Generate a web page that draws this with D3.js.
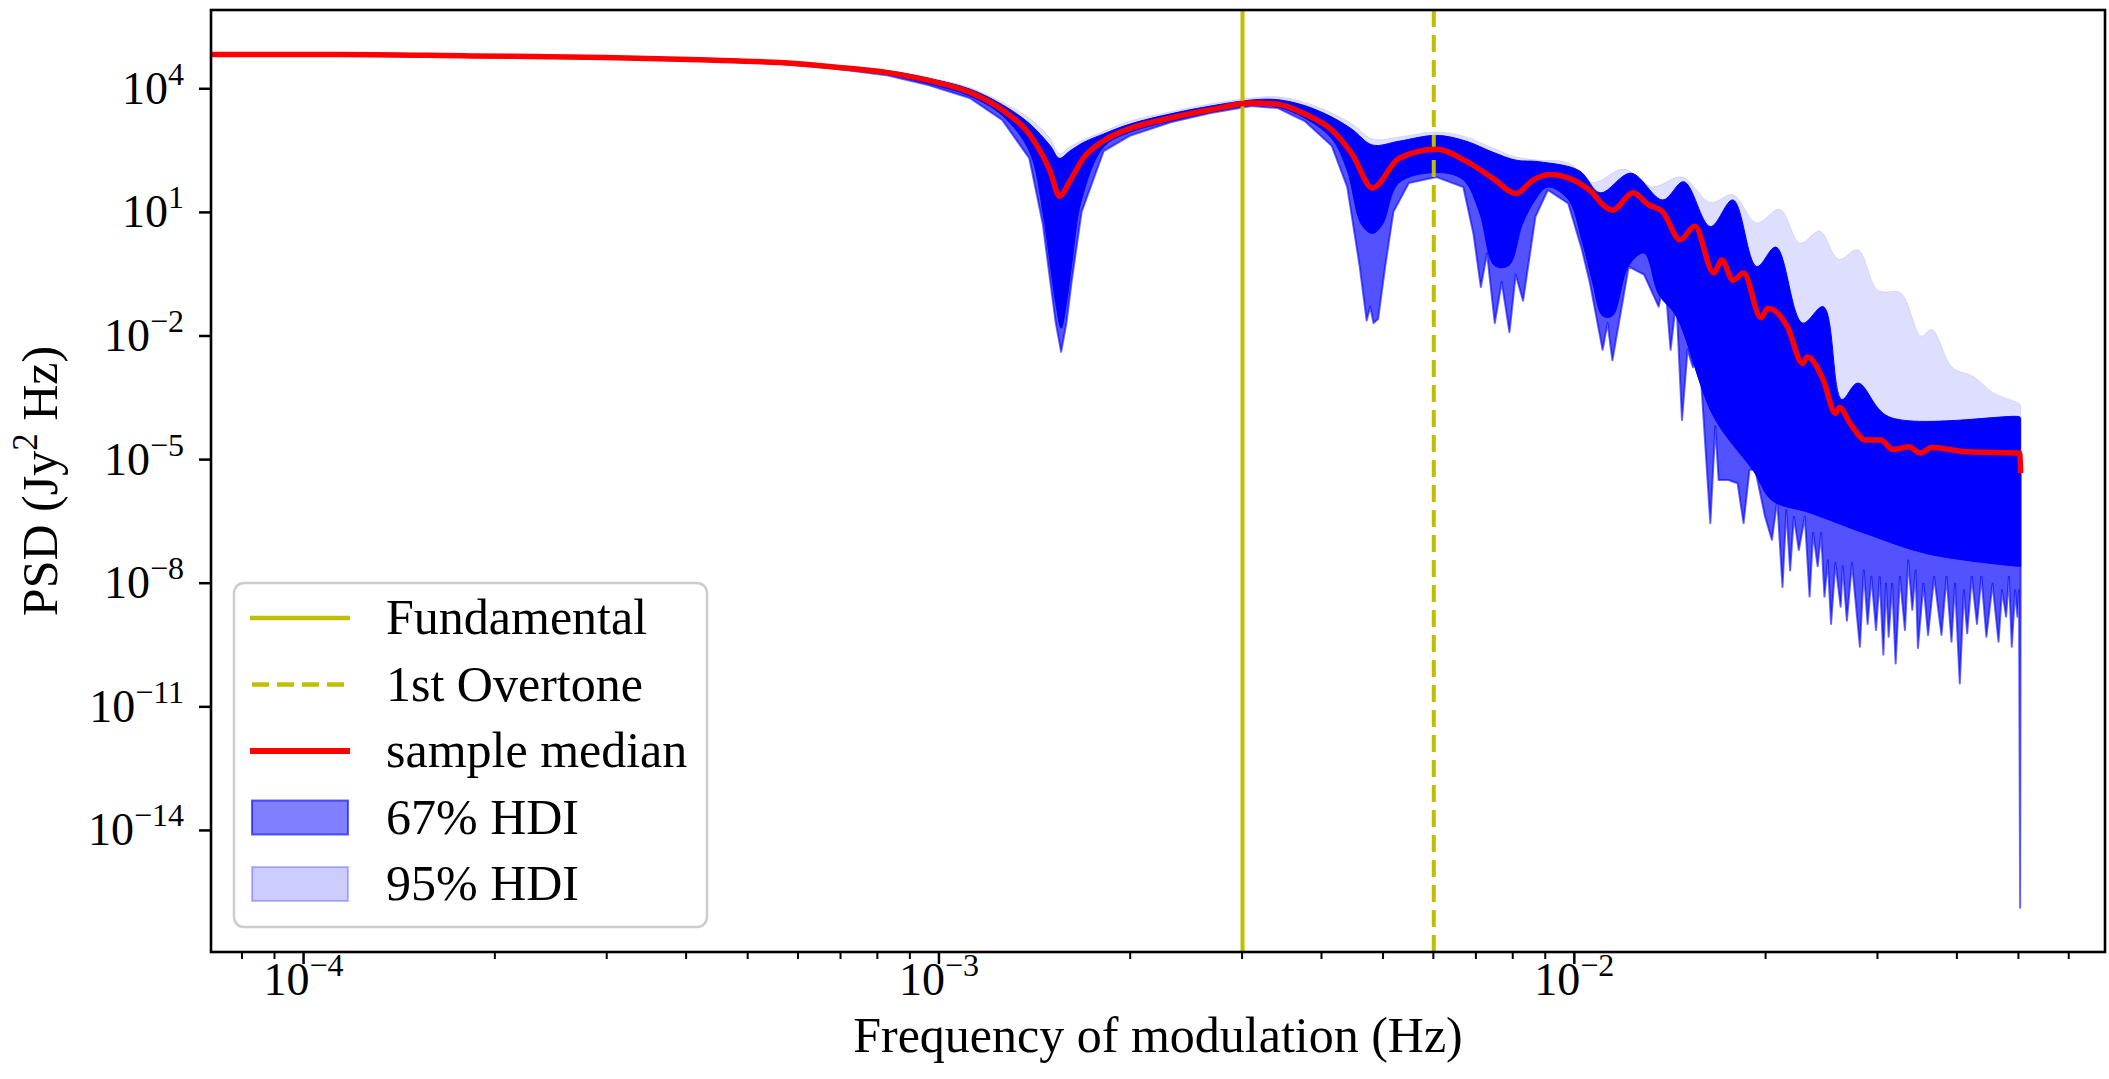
<!DOCTYPE html>
<html><head><meta charset="utf-8">
<script src="https://cdn.jsdelivr.net/npm/d3@7"></script>
<style>
body{margin:0;background:#fff}
svg{display:block}
text{font-family:"Liberation Serif","DejaVu Serif",serif;fill:#000}
</style>
</head><body>
<svg id="chart" width="2109" height="1079"></svg>
<script>
// ---------------- data ----------------
const fundamentalFreq = 3.01e-3;
const overtoneFreq = 6.02e-3;

const xMajorTicks = [1e-4, 1e-3, 1e-2];
const xMajorExp = ["\u22124", "\u22123", "\u22122"];
const xMinorTicks = [8e-5, 9e-5, 2e-4, 3e-4, 4e-4, 5e-4, 6e-4, 7e-4, 8e-4, 9e-4,
  2e-3, 3e-3, 4e-3, 5e-3, 6e-3, 7e-3, 8e-3, 9e-3, 2e-2, 3e-2, 4e-2, 5e-2, 6e-2];
const yTicks = [1e4, 1e1, 1e-2, 1e-5, 1e-8, 1e-11, 1e-14];
const yTickExp = ["4", "1", "\u22122", "\u22125", "\u22128", "\u221211", "\u221214"];

const legendLabels = ["Fundamental", "1st Overtone", "sample median", "67% HDI", "95% HDI"];

// sample median [frequency Hz, PSD Jy^2 Hz]
const medianPts = [
  [7.16e-5, 6.6e4], [1.13e-4, 6.6e4], [1.84e-4, 6.1e4], [2.99e-4, 5.6e4], [4.21e-4, 4.9e4],
  [5.63e-4, 4.2e4], [6.85e-4, 3.3e4], [8.33e-4, 2.4e4], [9.64e-4, 1.55e4], [1.12e-3, 8.0e3],
  [1.26e-3, 3.0e3], [1.39e-3, 7.7e2], [1.50e-3, 94], [1.55e-3, 24], [1.61e-3, 56],
  [1.69e-3, 200], [1.82e-3, 531], [2.00e-3, 1.05e3], [2.32e-3, 1.9e3], [2.68e-3, 3.0e3],
  [3.11e-3, 4.4e3], [3.42e-3, 4.1e3], [3.77e-3, 2.4e3], [4.16e-3, 970], [4.48e-3, 250],
  [4.82e-3, 38], [5.31e-3, 200], [6.08e-3, 330], [6.77e-3, 170], [7.46e-3, 65],
  [8.11e-3, 28], [8.64e-3, 60], [9.17e-3, 81], [1.02e-2, 50], [1.07e-2, 29],
  [1.11e-2, 15], [1.15e-2, 11], [1.24e-2, 29], [1.31e-2, 15], [1.38e-2, 10],
  [1.47e-2, 2.1], [1.55e-2, 4.5], [1.66e-2, 0.33], [1.71e-2, 0.68], [1.78e-2, 0.22],
  [1.85e-2, 0.33], [1.97e-2, 0.027], [2.02e-2, 0.046], [2.17e-2, 0.016], [2.29e-2, 2.1e-3],
  [2.33e-2, 3.0e-3], [2.47e-2, 8.3e-4], [2.58e-2, 1.3e-4], [2.62e-2, 1.8e-4], [2.72e-2, 7.5e-5],
  [2.88e-2, 2.9e-5], [3.04e-2, 2.9e-5], [3.18e-2, 1.7e-5], [3.37e-2, 2.0e-5], [3.51e-2, 1.4e-5],
  [3.66e-2, 1.9e-5], [4.16e-2, 1.5e-5], [5.03e-2, 1.4e-5], [5.05e-2, 4.6e-6]
];

// 95% HDI upper edge (faint envelope)
const hdi95Upper = [
  [7.16e-5, 7.0e4], [1.13e-4, 7.0e4], [1.84e-4, 6.45e4], [2.99e-4, 5.95e4], [4.21e-4, 5.2e4],
  [5.63e-4, 4.5e4], [6.85e-4, 3.6e4], [8.33e-4, 2.75e4], [9.64e-4, 1.85e4], [1.12e-3, 1.05e4],
  [1.26e-3, 4.6e3], [1.39e-3, 1.9e3], [1.50e-3, 600], [1.55e-3, 260], [1.61e-3, 380],
  [1.69e-3, 560], [1.82e-3, 900], [2.00e-3, 1.6e3], [2.32e-3, 2.7e3], [2.68e-3, 4.2e3],
  [3.11e-3, 5.8e3], [3.42e-3, 6.2e3], [3.77e-3, 4.6e3], [4.16e-3, 2.5e3], [4.48e-3, 1.35e3],
  [4.82e-3, 590], [5.31e-3, 660], [6.08e-3, 870], [6.77e-3, 660], [7.46e-3, 355],
  [8.11e-3, 215], [8.81e-3, 180], [9.8e-3, 155], [1.07e-2, 52], [1.20e-2, 110],
  [1.33e-2, 41], [1.48e-2, 70], [1.64e-2, 17], [1.78e-2, 26], [1.94e-2, 5.4],
  [2.11e-2, 11.5], [2.27e-2, 1.75], [2.44e-2, 3.4], [2.61e-2, 0.71], [2.80e-2, 1.2],
  [3.01e-2, 0.125], [3.27e-2, 0.108], [3.52e-2, 9.7e-3], [3.66e-2, 0.014], [3.94e-2, 1.7e-3],
  [4.26e-2, 1.0e-3], [4.57e-2, 4.1e-4], [5.02e-2, 2.25e-4], [5.05e-2, 2.0e-4]
];

// 67% HDI upper edge (dense core)
const hdi67Upper = [
  [7.16e-5, 6.85e4], [1.13e-4, 6.85e4], [1.84e-4, 6.35e4], [2.99e-4, 5.8e4], [4.21e-4, 5.1e4],
  [5.63e-4, 4.4e4], [6.85e-4, 3.5e4], [8.33e-4, 2.65e4], [9.64e-4, 1.75e4], [1.12e-3, 9.6e3],
  [1.26e-3, 4.0e3], [1.39e-3, 1.4e3], [1.50e-3, 400], [1.55e-3, 200], [1.61e-3, 300],
  [1.69e-3, 480], [1.82e-3, 780], [2.00e-3, 1.35e3], [2.32e-3, 2.4e3], [2.68e-3, 3.7e3],
  [3.11e-3, 5.2e3], [3.42e-3, 5.3e3], [3.77e-3, 3.8e3], [4.16e-3, 2.0e3], [4.48e-3, 1.0e3],
  [4.82e-3, 420], [5.31e-3, 520], [6.08e-3, 720], [6.77e-3, 520], [7.46e-3, 280],
  [8.11e-3, 180], [8.81e-3, 165], [1.02e-2, 100], [1.10e-2, 29], [1.23e-2, 87],
  [1.38e-2, 19.5], [1.49e-2, 54], [1.64e-2, 4.4], [1.78e-2, 19.5], [1.94e-2, 0.47],
  [2.08e-2, 1.4], [2.29e-2, 0.02], [2.47e-2, 0.05], [2.64e-2, 2.8e-4], [2.80e-2, 7e-4],
  [3.13e-2, 1.07e-4], [5.02e-2, 1.07e-4], [5.05e-2, 1.0e-4]
];

// 67% HDI lower edge (dense core)
const hdi67Lower = [
  [7.16e-5, 6.35e4], [1.13e-4, 6.35e4], [1.84e-4, 5.85e4], [2.99e-4, 5.4e4], [4.21e-4, 4.7e4],
  [5.63e-4, 4.0e4], [6.85e-4, 3.1e4], [8.33e-4, 2.15e4], [9.64e-4, 1.3e4], [1.12e-3, 6.5e3],
  [1.26e-3, 2.2e3], [1.39e-3, 300], [1.46e-3, 10], [1.50e-3, 0.5], [1.53e-3, 0.06],
  [1.56e-3, 0.015], [1.59e-3, 0.06], [1.62e-3, 0.5], [1.68e-3, 20], [1.82e-3, 380],
  [2.00e-3, 850], [2.32e-3, 1.6e3], [2.68e-3, 2.6e3], [3.11e-3, 3.9e3], [3.42e-3, 3.5e3],
  [3.77e-3, 1.9e3], [4.16e-3, 600], [4.40e-3, 100], [4.63e-3, 5], [4.82e-3, 3],
  [5.0e-3, 5], [5.3e-3, 50], [6.08e-3, 90], [6.7e-3, 60], [7.1e-3, 10],
  [7.5e-3, 0.5], [7.9e-3, 0.5], [8.3e-3, 5], [8.7e-3, 20], [9.1e-3, 40],
  [9.8e-3, 20], [1.03e-2, 2], [1.07e-2, 0.2], [1.11e-2, 0.03], [1.15e-2, 0.03],
  [1.22e-2, 0.5], [1.29e-2, 1], [1.36e-2, 0.1], [1.45e-2, 0.029], [1.66e-2, 1.07e-4],
  [1.92e-2, 5e-6], [2.05e-2, 1e-6], [2.35e-2, 5e-7], [2.90e-2, 1.5e-7], [3.61e-2, 5e-8],
  [5.02e-2, 2.5e-8], [5.05e-2, 2.5e-8]
];

// 95% HDI lower edge (spiky)
const hdi95Lower = [
  [7.16e-5, 6.2e4], [1.13e-4, 6.2e4], [1.84e-4, 5.75e4], [2.99e-4, 5.25e4], [4.21e-4, 4.6e4],
  [5.63e-4, 3.9e4], [6.85e-4, 3.0e4], [8.33e-4, 2.05e4], [9.64e-4, 1.2e4], [1.12e-3, 5.8e3],
  [1.26e-3, 1.7e3], [1.39e-3, 200], [1.46e-3, 5], [1.50e-3, 0.2], [1.53e-3, 0.02],
  [1.56e-3, 4e-3], [1.59e-3, 0.02], [1.62e-3, 0.2], [1.68e-3, 10], [1.82e-3, 300],
  [2.00e-3, 700], [2.32e-3, 1.5e3], [2.68e-3, 2.5e3], [3.11e-3, 3.7e3], [3.42e-3, 3.3e3],
  [3.77e-3, 1.6e3], [4.16e-3, 400], [4.40e-3, 40], [4.60e-3, 0.5], [4.72e-3, 0.023],
  [4.78e-3, 0.05], [4.84e-3, 0.02], [4.92e-3, 0.025], [5.05e-3, 0.5], [5.20e-3, 10],
  [5.50e-3, 50], [6.08e-3, 70], [6.70e-3, 40], [6.95e-3, 3], [7.14e-3, 0.15],
  [7.30e-3, 1], [7.51e-3, 0.02], [7.70e-3, 0.2], [7.92e-3, 0.012], [8.10e-3, 0.3],
  [8.32e-3, 0.07], [8.70e-3, 7.6], [9.10e-3, 34], [9.80e-3, 16], [1.03e-2, 1.2],
  [1.06e-2, 0.19], [1.11e-2, 4.5e-3], [1.13e-2, 0.02], [1.15e-2, 2.5e-3], [1.22e-2, 0.47],
  [1.29e-2, 0.3], [1.36e-2, 0.05], [1.39e-2, 0.27], [1.42e-2, 4.5e-3], [1.45e-2, 0.072],
  [1.48e-2, 8.9e-5], [1.51e-2, 4.5e-3], [1.54e-2, 1.7e-3], [1.57e-2, 9.3e-3], [1.64e-2, 2.8e-7],
  [1.67e-2, 6.2e-5], [1.69e-2, 3.1e-6], [1.75e-2, 3.1e-6], [1.81e-2, 2.6e-6], [1.85e-2, 2.8e-7],
  [1.89e-2, 5.5e-6], [1.93e-2, 5.5e-6], [2.00e-2, 4.0e-7], [2.05e-2, 1.1e-7], [2.09e-2, 1.0e-6],
  [2.13e-2, 7.9e-9], [2.16e-2, 5.8e-7], [2.19e-2, 2.0e-8], [2.22e-2, 4.0e-7], [2.26e-2, 6.2e-8],
  [2.31e-2, 4.0e-7], [2.35e-2, 4.6e-9], [2.38e-2, 1.6e-7], [2.42e-2, 2.5e-8], [2.45e-2, 1.6e-7],
  [2.48e-2, 4.6e-9], [2.51e-2, 3.5e-8], [2.54e-2, 1.0e-9], [2.58e-2, 3.0e-8], [2.63e-2, 2.6e-9],
  [2.65e-2, 2.5e-8], [2.69e-2, 1.2e-9], [2.74e-2, 3.0e-8], [2.82e-2, 2.8e-10], [2.86e-2, 2.0e-8],
  [2.90e-2, 1.0e-9], [2.94e-2, 1.4e-8], [2.99e-2, 7.1e-10], [3.03e-2, 1.4e-8], [3.07e-2, 1.8e-10],
  [3.10e-2, 9.5e-9], [3.13e-2, 4.9e-10], [3.17e-2, 9.5e-9], [3.21e-2, 1.1e-10], [3.26e-2, 1.4e-8],
  [3.32e-2, 7.1e-10], [3.36e-2, 3.5e-8], [3.41e-2, 2.2e-9], [3.45e-2, 2.0e-8], [3.48e-2, 2.6e-10],
  [3.55e-2, 9.5e-9], [3.61e-2, 5.4e-10], [3.69e-2, 1.4e-8], [3.79e-2, 5.4e-10], [3.86e-2, 1.4e-8],
  [3.93e-2, 3.7e-10], [3.98e-2, 9.5e-9], [4.05e-2, 3.6e-11], [4.11e-2, 6.6e-9], [4.16e-2, 5.9e-10],
  [4.23e-2, 1.4e-8], [4.31e-2, 1.0e-9], [4.38e-2, 1.4e-8], [4.46e-2, 4.9e-10], [4.56e-2, 9.5e-9],
  [4.66e-2, 3.7e-10], [4.72e-2, 6.6e-9], [4.79e-2, 1.5e-9], [4.84e-2, 1.4e-8], [4.89e-2, 2.8e-10],
  [4.95e-2, 6.6e-9], [4.99e-2, 1.5e-9], [5.02e-2, 6.6e-9], [5.04e-2, 1.3e-16], [5.05e-2, 1e-8]
];

// ---------------- layout ----------------
const svg = d3.select("#chart");
const M = {left: 211, top: 10, right: 2105, bottom: 952};
const x = d3.scaleLog().domain([7.163e-5, 6.855e-2]).range([M.left, M.right]);
const y = d3.scaleLog().domain([1.09e-17, 7.94e5]).range([M.bottom, M.top]);

const BLUE = "#0000ff", RED = "#ff0000", YEL = "#bfbf00";

svg.append("defs").append("clipPath").attr("id", "clip")
  .append("rect").attr("x", M.left).attr("y", M.top)
  .attr("width", M.right - M.left).attr("height", M.bottom - M.top);

const plot = svg.append("g").attr("clip-path", "url(#clip)");
const lineLin = d3.line().x(d => x(d[0])).y(d => y(d[1]));
const lineSmooth = d3.line().x(d => x(d[0])).y(d => y(d[1])).curve(d3.curveCatmullRom.alpha(0.5));
const lineMono = d3.line().x(d => x(d[0])).y(d => y(d[1])).curve(d3.curveMonotoneX);
// closed band: upper edge left->right, then lower edge right->left
const band = (up, upGen, lo, loGen) =>
  upGen(up) + "L" + loGen(lo.slice().reverse()).slice(1) + "Z";

// faint upper part of the 95% HDI
plot.append("path").attr("d", band(hdi95Upper, lineSmooth, medianPts, lineMono))
  .attr("fill", BLUE).attr("fill-opacity", 0.13).attr("stroke", BLUE)
  .attr("stroke-opacity", 0.1).attr("stroke-width", 1);
// lower part of the 95% HDI (spiky)
plot.append("path").attr("d", band(medianPts, lineMono, hdi95Lower, lineLin))
  .attr("fill", BLUE).attr("fill-opacity", 0.68).attr("stroke", BLUE)
  .attr("stroke-opacity", 0.6).attr("stroke-width", 2).attr("stroke-linejoin", "round");
// dense 67% HDI
plot.append("path").attr("d", band(hdi67Upper, lineSmooth, hdi67Lower, lineSmooth))
  .attr("fill", BLUE).attr("stroke", BLUE).attr("stroke-width", 1);

// vertical reference lines
plot.append("line").attr("x1", x(fundamentalFreq)).attr("x2", x(fundamentalFreq))
  .attr("y1", M.bottom).attr("y2", M.top).attr("stroke", YEL).attr("stroke-width", 4);
plot.append("line").attr("x1", x(overtoneFreq)).attr("x2", x(overtoneFreq))
  .attr("y1", M.bottom).attr("y2", M.top).attr("stroke", YEL).attr("stroke-width", 4)
  .attr("stroke-dasharray", "17,8");

// median
plot.append("path").attr("d", lineMono(medianPts)).attr("fill", "none")
  .attr("stroke", RED).attr("stroke-width", 5.5).attr("stroke-linejoin", "round");

// ---------------- axes ----------------
const xAxisMajor = svg.append("g").attr("transform", `translate(0,${M.bottom})`)
  .call(d3.axisBottom(x).tickValues(xMajorTicks).tickFormat("").tickSize(12).tickSizeOuter(0));
const xAxisMinor = svg.append("g").attr("transform", `translate(0,${M.bottom})`)
  .call(d3.axisBottom(x).tickValues(xMinorTicks).tickFormat("").tickSize(7).tickSizeOuter(0));
const yAxis = svg.append("g").attr("transform", `translate(${M.left},0)`)
  .call(d3.axisLeft(y).tickValues(yTicks).tickFormat("").tickSize(12).tickSizeOuter(0));

[xAxisMajor, xAxisMinor, yAxis].forEach(g => {
  g.select(".domain").remove();
  g.selectAll(".tick line").attr("stroke", "#000").attr("stroke-width", 2.5);
});
xAxisMinor.selectAll(".tick line").attr("stroke-width", 2);

xAxisMajor.selectAll(".tick").each(function(d, i) {
  const t = d3.select(this).append("text").attr("y", 43).attr("text-anchor", "middle")
    .attr("font-size", 46);
  t.append("tspan").text("10");
  t.append("tspan").attr("font-size", 32).attr("dy", -19).text(xMajorExp[i]);
});
yAxis.selectAll(".tick").each(function(d, i) {
  const t = d3.select(this).append("text").attr("x", -27).attr("y", 15).attr("text-anchor", "end")
    .attr("font-size", 46);
  t.append("tspan").text("10");
  t.append("tspan").attr("font-size", 32).attr("dy", -19).text(yTickExp[i]);
});

// frame
svg.append("rect").attr("x", M.left).attr("y", M.top)
  .attr("width", M.right - M.left).attr("height", M.bottom - M.top)
  .attr("fill", "none").attr("stroke", "#000").attr("stroke-width", 2.6);

// axis labels
svg.append("text").attr("x", (M.left + M.right) / 2).attr("y", 1052)
  .attr("text-anchor", "middle").attr("font-size", 50).text("Frequency of modulation (Hz)");
const yl = svg.append("text").attr("transform", `translate(57,${(M.top + M.bottom) / 2}) rotate(-90)`)
  .attr("text-anchor", "middle").attr("font-size", 50);
yl.append("tspan").text("PSD (Jy");
yl.append("tspan").attr("font-size", 35).attr("dy", -20).text("2");
yl.append("tspan").attr("dy", 20).text(" Hz)");

// ---------------- legend ----------------
const lg = svg.append("g");
lg.append("rect").attr("x", 234).attr("y", 583).attr("width", 473).attr("height", 344)
  .attr("rx", 10).attr("fill", "#fff").attr("fill-opacity", 0.8)
  .attr("stroke", "#cccccc").attr("stroke-width", 2.5);
const rowY = [618, 684.5, 751, 817.5, 884];
lg.append("line").attr("x1", 250).attr("x2", 350).attr("y1", rowY[0]).attr("y2", rowY[0])
  .attr("stroke", YEL).attr("stroke-width", 4.5);
lg.append("line").attr("x1", 252).attr("x2", 350).attr("y1", rowY[1]).attr("y2", rowY[1])
  .attr("stroke", YEL).attr("stroke-width", 4.5).attr("stroke-dasharray", "17,8");
lg.append("line").attr("x1", 250).attr("x2", 350).attr("y1", rowY[2]).attr("y2", rowY[2])
  .attr("stroke", RED).attr("stroke-width", 6);
lg.append("rect").attr("x", 252).attr("y", rowY[3] - 17).attr("width", 96).attr("height", 34)
  .attr("fill", BLUE).attr("fill-opacity", 0.5).attr("stroke", BLUE).attr("stroke-opacity", 0.6)
  .attr("stroke-width", 2);
lg.append("rect").attr("x", 252).attr("y", rowY[4] - 17).attr("width", 96).attr("height", 34)
  .attr("fill", BLUE).attr("fill-opacity", 0.2).attr("stroke", BLUE).attr("stroke-opacity", 0.25)
  .attr("stroke-width", 2);
legendLabels.forEach((s, i) => {
  lg.append("text").attr("x", 386).attr("y", rowY[i] + 16).attr("font-size", 50).text(s);
});
</script>
</body></html>
